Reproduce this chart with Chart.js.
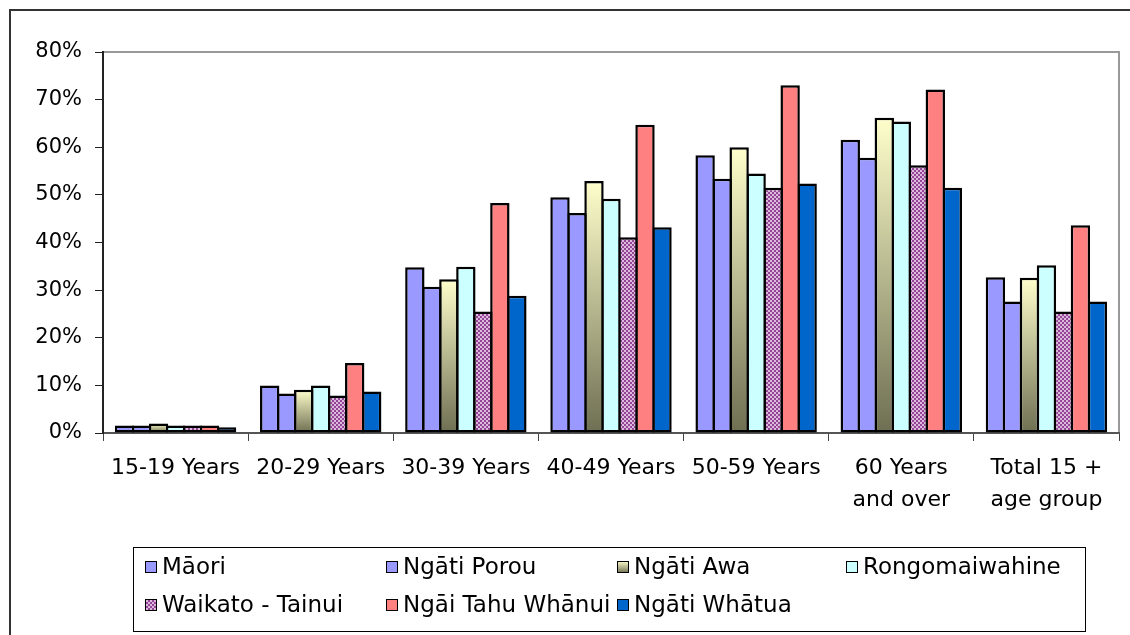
<!DOCTYPE html>
<html>
<head>
<meta charset="utf-8">
<script src="https://cdn.jsdelivr.net/npm/chart.js@4/dist/chart.umd.min.js"></script>
<style>
  body { margin: 0; background: #fff; }
  canvas { display: block; }
</style>
</head>
<body>
<canvas id="chart" width="1130" height="635"></canvas>
<script>
// Categories and series (percent)
const ageGroups = ["15-19 Years", "20-29 Years", "30-39 Years", "40-49 Years", "50-59 Years", ["60 Years", "and over"], ["Total 15 +", "age group"]];
const maori          = [1.6, 10.0, 34.8, 49.5, 58.3, 61.6, 32.7];
const ngatiPorou     = [1.6, 8.3, 30.7, 46.2, 53.4, 57.8, 27.6];
const ngatiAwa       = [2.0, 9.1, 32.3, 52.9, 60.0, 66.2, 32.6];
const rongomaiwahine = [1.6, 10.0, 34.9, 49.2, 54.5, 65.4, 35.2];
const waikatoTainui  = [1.6, 7.9, 25.5, 41.1, 51.5, 56.2, 25.5];
const ngaiTahu       = [1.6, 14.7, 48.3, 64.7, 73.0, 72.1, 43.6];
const ngatiWhatua    = [1.2, 8.7, 28.8, 43.2, 52.4, 51.5, 27.6];
const yTicks = [0, 10, 20, 30, 40, 50, 60, 70, 80];

const FONT = "'DejaVu Sans', sans-serif";
const canvas = document.getElementById("chart");
const ctx2d = canvas.getContext("2d");

// checkered purple fill for Waikato - Tainui
const makeChecker = () => {
  const p = document.createElement("canvas");
  p.width = 4; p.height = 4;
  const c = p.getContext("2d");
  c.fillStyle = "#DDB8DD"; c.fillRect(0, 0, 4, 4);
  c.fillStyle = "#954595"; c.fillRect(0, 0, 2, 2); c.fillRect(2, 2, 2, 2);
  return ctx2d.createPattern(p, "repeat");
};
const checker = makeChecker();

const awaGradient = (c, top, bottom) => {
  const g = c.createLinearGradient(0, top, 0, bottom);
  g.addColorStop(0, "#FFFFCC");
  g.addColorStop(1, "#6E6E52");
  return g;
};

// gradient per bar, top to bottom
const awaFill = (context) => {
  const chart = context.chart;
  const y = chart.scales.y;
  if (context.type !== "data" || !y) return "#FFFFCC";
  const top = y.getPixelForValue(context.raw);
  const bottom = y.getPixelForValue(0);
  if (!isFinite(top) || !isFinite(bottom) || top === bottom) return "#FFFFCC";
  return awaGradient(chart.ctx, top, bottom);
};

const series = [
  { label: "Māori", data: maori, fill: "#9999FF" },
  { label: "Ngāti Porou", data: ngatiPorou, fill: "#9999FF" },
  { label: "Ngāti Awa", data: ngatiAwa, fill: awaFill },
  { label: "Rongomaiwahine", data: rongomaiwahine, fill: "#CCFFFF" },
  { label: "Waikato - Tainui", data: waikatoTainui, fill: checker },
  { label: "Ngāi Tahu Whānui", data: ngaiTahu, fill: "#FF8080" },
  { label: "Ngāti Whātua", data: ngatiWhatua, fill: "#0066CC" }
];

// frame, plot border and the boxed legend
const framePlugin = {
  id: "frame",
  beforeDraw(chart) {
    const c = chart.ctx;
    const a = chart.chartArea;
    c.save();
    c.fillStyle = "#fff";
    c.fillRect(0, 0, chart.width, chart.height);
    c.strokeStyle = "#333";
    c.lineWidth = 2;
    c.strokeRect(10, 10, chart.width + 20, chart.height + 20);
    c.strokeStyle = "#999";
    c.beginPath();
    c.moveTo(a.left, a.top);
    c.lineTo(a.right, a.top);
    c.lineTo(a.right, a.bottom);
    c.stroke();
    c.restore();
  },
  afterDraw(chart) {
    const c = chart.ctx;
    c.save();
    c.strokeStyle = "#000";
    c.lineWidth = 1;
    c.strokeRect(133.5, 547.5, 952, 84);
    const cols = [145, 386, 617, 846];
    const rows = [567, 605];
    c.font = "23px " + FONT;
    c.textBaseline = "middle";
    c.fillStyle = "#000";
    series.forEach((s, i) => {
      const x = cols[i % 4];
      const y = rows[Math.floor(i / 4)];
      if (typeof s.fill === "function") c.fillStyle = awaGradient(c, y - 6, y + 6);
      else c.fillStyle = s.fill;
      c.fillRect(x, y - 6, 12, 12);
      c.strokeStyle = "#000";
      c.lineWidth = 1;
      c.strokeRect(x + 0.5, y - 5.5, 11, 11);
      c.fillStyle = "#000";
      c.fillText(s.label, x + 17, y + 1);
    });
    c.restore();
  }
};

new Chart(canvas, {
  type: "bar",
  data: {
    labels: ageGroups,
    datasets: series.map(s => ({
      label: s.label,
      data: s.data,
      backgroundColor: s.fill,
      borderColor: "#000",
      borderWidth: 2.5,
      borderSkipped: false,
      categoryPercentage: 0.82,
      barPercentage: 1.14
    }))
  },
  options: {
    responsive: false,
    animation: false,
    events: [],
    layout: { padding: { left: 0, top: 52, right: 11, bottom: 0 } },
    plugins: {
      legend: { display: false },
      tooltip: { enabled: false }
    },
    scales: {
      x: {
        offset: true,
        grid: { offset: true, drawOnChartArea: false, drawTicks: true, tickLength: 8, color: "#444" },
        border: { color: "#555", width: 2 },
        ticks: {
          color: "#000",
          padding: 11,
          maxRotation: 0,
          autoSkip: false,
          font: { family: FONT, size: 22, lineHeight: 1.45 }
        },
        afterFit: (s) => { s.height = 202; }
      },
      y: {
        min: 0,
        max: 80,
        afterBuildTicks: (s) => { s.ticks = yTicks.map(v => ({ value: v })); },
        grid: { drawOnChartArea: false, drawTicks: true, tickLength: 8, color: "#222" },
        border: { color: "#222", width: 2 },
        ticks: {
          color: "#000",
          padding: 13,
          callback: (v) => v + "%",
          font: { family: FONT, size: 21 }
        },
        afterFit: (s) => { s.width = 103; }
      }
    }
  },
  plugins: [framePlugin]
});
</script>
</body>
</html>
